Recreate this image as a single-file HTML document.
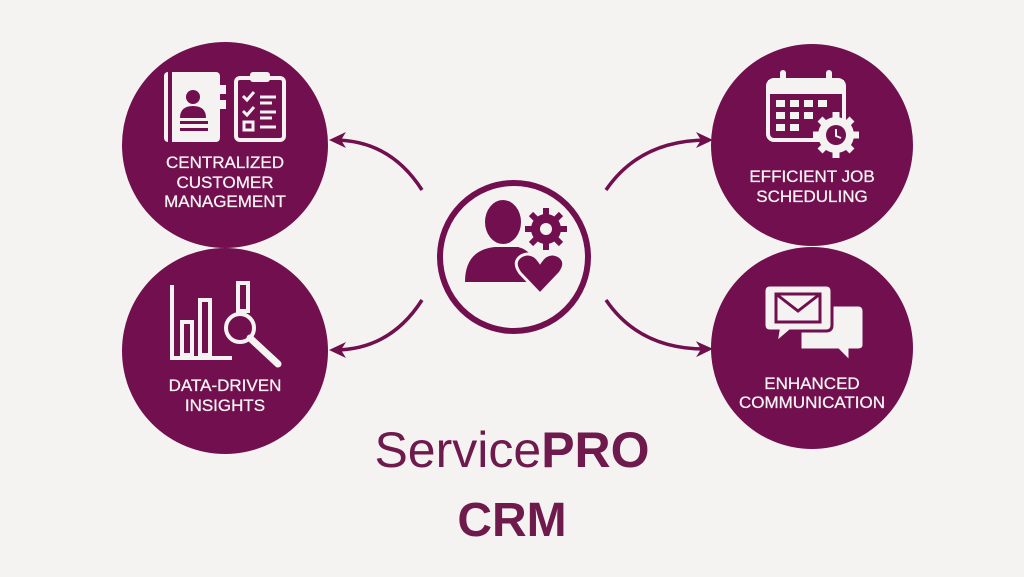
<!DOCTYPE html>
<html><head><meta charset="utf-8"><style>
html,body{margin:0;padding:0;background:#f4f3f2;}
body{width:1024px;height:572px;overflow:hidden;position:relative;font-family:"Liberation Sans",sans-serif;}
</style></head><body>
<svg width="1024" height="572" viewBox="0 0 1024 572" xmlns="http://www.w3.org/2000/svg">
<defs>
<marker id="ah" markerWidth="18" markerHeight="18" refX="12" refY="9" orient="auto" markerUnits="userSpaceOnUse">
<path d="M0,1 L17,9 L0,17 L5,9 Z" fill="#6f0f4b"/>
</marker>
</defs>
<g fill="#720f4e">
<circle cx="225" cy="145" r="103"/>
<circle cx="225" cy="351" r="103"/>
<circle cx="812" cy="145" r="101"/>
<circle cx="812" cy="348" r="101"/>
</g>
<circle cx="514" cy="257" r="74" fill="none" stroke="#720f4e" stroke-width="6"/>
<g fill="none" stroke="#720f4e" stroke-width="3.5" marker-end="url(#ah)">
<path d="M422,190 Q390,140 334,140"/>
<path d="M422,300 Q390,350 334,350"/>
<path d="M606,190 Q640,140 708,140"/>
<path d="M606,300 Q640,350 708,349"/>
</g>
<g fill="#720f4e">
<ellipse cx="503" cy="222" rx="18" ry="22"/>
<path d="M465,282 Q465,250 495,247 L518,247 Q530,250 535,262 L535,282 Z"/>
<circle cx="546" cy="229" r="15"/>
</g>
<g stroke="#720f4e" stroke-width="6">
<line x1="546" y1="208" x2="546" y2="250"/><line x1="525" y1="229" x2="567" y2="229"/>
<line x1="531" y1="214" x2="561" y2="244"/><line x1="561" y1="214" x2="531" y2="244"/>
</g>
<circle cx="546" cy="229" r="6" fill="#f4f3f2"/>
<path d="M540,294 L520,273 Q512,262 521,256 Q532,250 540,262 Q548,250 559,256 Q568,262 560,273 Z" fill="#720f4e" stroke="#f4f3f2" stroke-width="3"/>
<g fill="#f4f3f2">
<rect x="164" y="72" width="56" height="70" rx="4"/>
<rect x="220" y="85" width="6" height="9"/><rect x="220" y="100" width="6" height="9"/>
</g>
<rect x="168" y="72" width="4" height="70" fill="#720f4e"/>
<g fill="#720f4e"><circle cx="193" cy="97" r="7"/><path d="M180,118 Q180,106 193,106 Q206,106 206,118 Z"/>
<rect x="180" y="121" width="28" height="3"/><rect x="180" y="128" width="28" height="3"/></g>
<rect x="236" y="78" width="48" height="62" rx="4" fill="none" stroke="#f4f3f2" stroke-width="4"/>
<rect x="250" y="72" width="20" height="10" rx="3" fill="#f4f3f2"/>
<g stroke="#f4f3f2" stroke-width="3" fill="none">
<path d="M243,96 l4,4 l7,-8"/><path d="M243,111 l4,4 l7,-8"/><rect x="244" y="122" width="9" height="8"/>
<line x1="260" y1="97" x2="276" y2="97"/><line x1="260" y1="103" x2="272" y2="103"/>
<line x1="260" y1="112" x2="276" y2="112"/><line x1="260" y1="118" x2="272" y2="118"/>
<line x1="260" y1="127" x2="276" y2="127"/></g>
<g fill="#f4f3f2" font-size="17" text-anchor="middle" font-family="Liberation Sans, sans-serif" stroke="#f4f3f2" stroke-width="0.3">
<text x="225" y="168">CENTRALIZED</text>
<text x="225" y="188">CUSTOMER</text>
<text x="225" y="207">MANAGEMENT</text>
<text x="225" y="391">DATA-DRIVEN</text>
<text x="225" y="411">INSIGHTS</text>
<text x="812" y="182">EFFICIENT JOB</text>
<text x="812" y="202">SCHEDULING</text>
<text x="812" y="389">ENHANCED</text>
<text x="812" y="408">COMMUNICATION</text>
</g>
<g fill="none" stroke="#f4f3f2" stroke-width="4">
<path d="M172,285 L172,358 L232,358"/>
<rect x="182" y="322" width="10" height="33"/><rect x="200" y="300" width="10" height="55"/>
<rect x="238" y="283" width="10" height="28"/>
<circle cx="240" cy="328" r="14"/>
</g>
<line x1="250" y1="338" x2="278" y2="364" stroke="#f4f3f2" stroke-width="7" stroke-linecap="round"/>
<g fill="none" stroke="#f4f3f2" stroke-width="4">
<rect x="768" y="80" width="76" height="60" rx="6"/>
</g>
<rect x="768" y="80" width="76" height="14" fill="#f4f3f2"/>
<rect x="780" y="70" width="6" height="16" rx="3" fill="#f4f3f2"/><rect x="826" y="70" width="6" height="16" rx="3" fill="#f4f3f2"/>
<g fill="#f4f3f2">
<rect x="776" y="100" width="9" height="7"/><rect x="790" y="100" width="9" height="7"/><rect x="804" y="100" width="9" height="7"/><rect x="818" y="100" width="9" height="7"/>
<rect x="776" y="112" width="9" height="7"/><rect x="790" y="112" width="9" height="7"/><rect x="804" y="112" width="9" height="7"/>
<rect x="776" y="124" width="9" height="7"/><rect x="790" y="124" width="9" height="7"/>
<circle cx="836" cy="135" r="18"/></g>
<g stroke="#f4f3f2" stroke-width="7"><line x1="836" y1="112" x2="836" y2="158"/><line x1="813" y1="135" x2="859" y2="135"/><line x1="820" y1="119" x2="852" y2="151"/><line x1="852" y1="119" x2="820" y2="151"/></g>
<circle cx="836" cy="135" r="10" fill="#720f4e"/>
<path d="M836,129 L836,136 L841,138" stroke="#f4f3f2" stroke-width="2" fill="none"/>
<path d="M800,305 L858,305 Q864,305 864,311 L864,345 Q864,350 858,350 L850,350 L850,362 L838,350 L800,350 Z" fill="#f4f3f2" stroke="#720f4e" stroke-width="3"/>
<path d="M770,285 L826,285 Q832,285 832,291 L832,325 Q832,331 826,331 L790,331 L776,343 L778,331 L770,331 Q764,331 764,325 L764,291 Q764,285 770,285 Z" fill="#f4f3f2" stroke="#720f4e" stroke-width="3"/>
<rect x="776" y="294" width="44" height="28" fill="none" stroke="#720f4e" stroke-width="3"/>
<path d="M776,294 L798,311 L820,294" fill="none" stroke="#720f4e" stroke-width="3"/>
<text x="512" y="467" text-anchor="middle" font-size="50" fill="#6f1a4c" font-family="Liberation Sans, sans-serif">Service<tspan font-weight="bold">PRO</tspan></text>
<text x="512" y="536" text-anchor="middle" font-size="48" font-weight="bold" fill="#6f1a4c" font-family="Liberation Sans, sans-serif">CRM</text>
</svg>
</body></html>
